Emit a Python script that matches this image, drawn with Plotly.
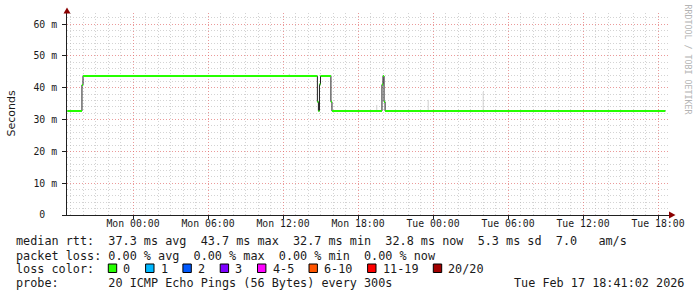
import plotly.graph_objects as go

# ---------------- data ----------------
rtt_times = ["2026-02-15 18:45", "2026-02-15 19:55", "2026-02-15 20:00",
             "2026-02-16 14:45", "2026-02-16 14:50", "2026-02-16 14:55", "2026-02-16 15:00",
             "2026-02-16 15:50", "2026-02-16 15:55",
             "2026-02-16 19:55", "2026-02-16 20:00", "2026-02-16 20:05", "2026-02-16 20:10",
             "2026-02-17 18:35"]
rtt_ms = [32.7, 40.9, 43.7,
          35.6, 32.7, 41.1, 43.7,
          35.6, 32.7,
          41.0, 43.7, 35.6, 32.7,
          32.8]

smoke_times = ["2026-02-16 12:30", "2026-02-16 19:30", "2026-02-16 23:37", "2026-02-17 04:01"]
smoke_lo = [43.7, 33.0, 33.0, 33.0]
smoke_hi = [44.4, 34.6, 36.2, 38.7]

y_tick_vals = [0, 10, 20, 30, 40, 50, 60]
y_tick_text = ["0\u00a0\u00a0", "10 m", "20 m", "30 m", "40 m", "50 m", "60 m"]

loss_labels = ["0", "1", "2", "3", "4-5", "6-10", "11-19", "20/20"]
loss_colors = ["#26ff00", "#00b8ff", "#0059ff", "#7e00ff", "#ff00ff", "#ff5500", "#ff0000", "#a10000"]

line_rtt = "median rtt:  37.3 ms avg  43.7 ms max  32.7 ms min  32.8 ms now  5.3 ms sd  7.0   am/s"
line_loss = "packet loss: 0.00 % avg  0.00 % max  0.00 % min  0.00 % now"
line_probe = "probe:       20 ICMP Echo Pings (56 Bytes) every 300s"
stamp = "Tue Feb 17 18:41:02 2026"

# ---------------- geometry helpers ----------------
W, H = 697, 297
L, R, T, B = 67, 669, 13, 215


def px(x):
    return (x - L) / (R - L)


def py(y):
    return (B - y) / (B - T)


NB = "\u00a0"
MONO = "DejaVu Sans Mono"
TXT = "#1a1a1a"

fig = go.Figure()

# smoke
sx, sy = [], []
for t, lo, hi in zip(smoke_times, smoke_lo, smoke_hi):
    sx += [t, t, None]
    sy += [lo, hi, None]
fig.add_trace(go.Scatter(x=sx, y=sy, mode="lines", line=dict(color="#d0d0d0", width=1),
                         hoverinfo="skip"))

# black step line (verticals)
fig.add_trace(go.Scatter(x=rtt_times, y=rtt_ms, mode="lines",
                         line=dict(color="#202020", width=1, shape="hv"), hoverinfo="skip"))

# green horizontal segments (loss colour 0)
gx, gy = [], []
for i in range(len(rtt_times) - 1):
    gx += [rtt_times[i], rtt_times[i + 1], None]
    gy += [rtt_ms[i], rtt_ms[i], None]
fig.add_trace(go.Scatter(x=gx, y=gy, mode="lines", line=dict(color=loss_colors[0], width=2),
                         hoverinfo="skip"))

major_grid = "rgba(225,100,100,0.65)"
minor_grid = "rgba(175,175,175,0.55)"

fig.update_xaxes(type="date",
                 range=["2026-02-15 18:43:12", "2026-02-17 18:52:48"],
                 tick0="2026-02-16 00:00", dtick=6 * 3600 * 1000, tickformat="%a %H:%M",
                 showgrid=True, gridcolor=major_grid, gridwidth=1, griddash="1px,2px",
                 minor=dict(dtick=3600 * 1000, tick0="2026-02-16 00:00", showgrid=True,
                            gridcolor=minor_grid, gridwidth=1, griddash="1px,2px", ticks=""),
                 showline=True, linecolor="#202020", linewidth=1,
                 ticks="outside", ticklen=3, tickcolor="#202020",
                 tickfont=dict(family=MONO, size=9.8, color=TXT),
                 ticklabelstandoff=-4,
                 zeroline=False, fixedrange=True)

fig.update_yaxes(range=[0, 63.52], tickmode="array", tickvals=y_tick_vals, ticktext=y_tick_text,
                 showgrid=True, gridcolor=major_grid, gridwidth=1, griddash="1px,2px",
                 minor=dict(tickmode="array", tickvals=[v for v in range(2, 64, 2) if v % 10],
                            showgrid=True, gridcolor=minor_grid, gridwidth=1,
                            griddash="1px,2px", ticks=""),
                 showline=True, linecolor="#202020", linewidth=1,
                 ticks="outside", ticklen=4, tickcolor="#202020",
                 tickfont=dict(family=MONO, size=9.8, color=TXT),
                 ticklabelstandoff=3,
                 zeroline=False, fixedrange=True)

shapes = []
arrow_col = "#8b0000"
# arrow on y axis
shapes.append(dict(type="path", xref="paper", yref="paper",
                   path=f"M {px(67)},{py(7.5)} L {px(63.5)},{py(13.5)} L {px(70.5)},{py(13.5)} Z",
                   fillcolor=arrow_col, line=dict(width=0)))
# arrow on x axis
shapes.append(dict(type="path", xref="paper", yref="paper",
                   path=f"M {px(675.5)},{py(215)} L {px(669)},{py(211.5)} L {px(669)},{py(218.5)} Z",
                   fillcolor=arrow_col, line=dict(width=0)))

annotations = []


def text(x, y, s, size=11.8, family=MONO, color=TXT, xanchor="left", angle=0):
    annotations.append(dict(x=px(x), y=py(y), xref="paper", yref="paper", text=s.replace(" ", NB),
                            showarrow=False, xanchor=xanchor, yanchor="middle",
                            font=dict(family=family, size=size, color=color),
                            borderpad=0, borderwidth=0, textangle=angle))


text(10.5, 114, "Seconds", size=11, family="DejaVu Sans", xanchor="center", angle=-90)
text(687.5, 60, "RRDTOOL / TOBI OETIKER", size=8.3, color="#b4b4b4", xanchor="center", angle=90)

text(16, 241.5, line_rtt)
text(16, 255.5, line_loss)
text(16, 269, "loss color:")
text(16, 283, line_probe)
text(683.5, 283, stamp, xanchor="right")

# loss colour legend
bx = 108.3
for lab, col in zip(loss_labels, loss_colors):
    shapes.append(dict(type="rect", xref="paper", yref="paper",
                       x0=px(bx), x1=px(bx + 8.4), y0=py(272.5), y1=py(264),
                       fillcolor=col, line=dict(color="#000000", width=1)))
    text(bx + 15, 269, lab)
    bx = bx + 15 + 7.1 * len(lab) + 15.2

fig.update_layout(width=W, height=H, margin=dict(l=L, r=W - R, t=T, b=H - B),
                  paper_bgcolor="white", plot_bgcolor="white", showlegend=False,
                  shapes=shapes, annotations=annotations)

fig.write_html("out.html")
